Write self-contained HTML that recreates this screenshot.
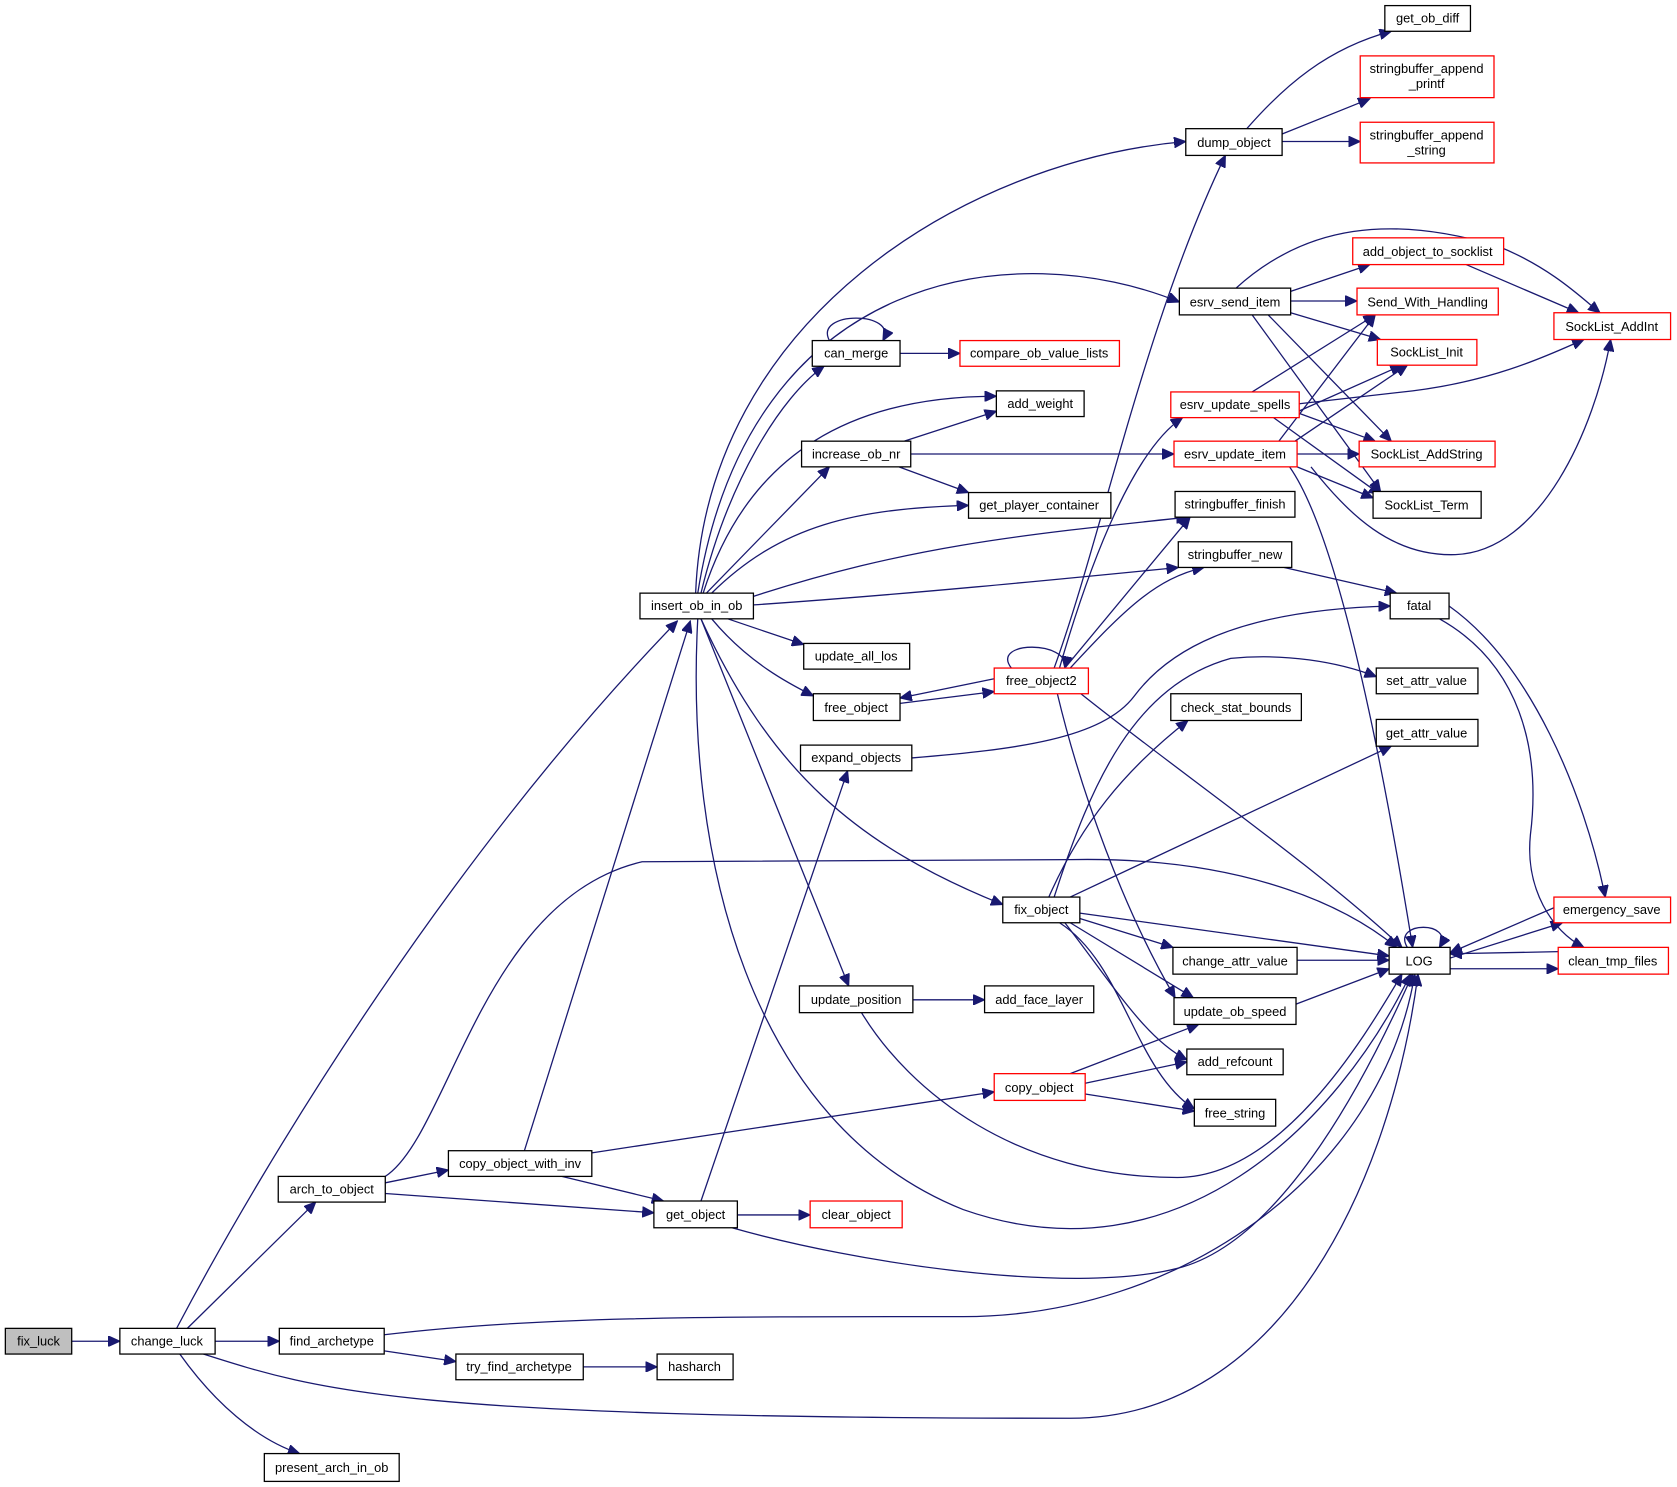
<!DOCTYPE html>
<html><head><meta charset="utf-8"><style>
html,body{margin:0;padding:0;background:#fff;}
svg{display:block;}
text{font-family:"Liberation Sans",sans-serif;font-size:12px;fill:#000;text-anchor:middle;}
.n{fill:#fff;stroke:#000;stroke-width:1.2;}
.r{fill:#fff;stroke:#f00;stroke-width:1.2;}
.e{fill:none;stroke:#191970;stroke-width:1.2;}
</style></head><body>
<svg width="1677" height="1487" viewBox="0 0 1567 1389" xmlns="http://www.w3.org/2000/svg">
<defs><marker id="a" markerUnits="userSpaceOnUse" markerWidth="12" markerHeight="10" refX="11" refY="5" orient="auto"><path d="M0,0 L11,5 L0,10 z" fill="#191970" stroke="#191970"/></marker></defs>
<g class="e" marker-end="url(#a)">
<path d="M67,1253 L112,1253"/>
<path d="M165,1241 C250,1080 420,800 633,580"/>
<path d="M175,1241 L295,1123"/>
<path d="M201,1253 L261,1253"/>
<path d="M190,1265 C300,1300 380,1325 1000,1325 C1200,1325 1300,1100 1325,910"/>
<path d="M168,1265 C200,1310 240,1345 280,1358"/>
<path d="M359,1262 L426,1272"/>
<path d="M359,1247 C500,1230 650,1230 900,1230 C1100,1230 1290,1100 1322,910"/>
<path d="M545,1277 L614,1277"/>
<path d="M360,1099 C420,1060 450,840 600,805 L1000,803 C1150,800 1250,840 1305,885"/>
<path d="M360,1105 L419,1093"/>
<path d="M360,1115 L611,1133"/>
<path d="M490,1075 L645,580"/>
<path d="M525,1099 L620,1122"/>
<path d="M553,1077 L929,1020"/>
<path d="M655,1122 L792,720"/>
<path d="M689,1135 L757,1135"/>
<path d="M684,1147 C800,1180 1000,1210 1100,1185 C1200,1160 1280,1000 1320,910"/>
<path d="M650,554 C660,300 900,150 1108,132"/>
<path d="M652,554 C700,250 950,220 1102,282"/>
<path d="M655,554 C680,450 730,370 770,342"/>
<path d="M657,554 C700,420 800,370 931,370"/>
<path d="M660,554 L775,436"/>
<path d="M665,554 C730,490 800,475 905,472"/>
<path d="M704,557 C850,510 950,500 1110,483"/>
<path d="M704,565 C850,555 1000,540 1101,530"/>
<path d="M680,578 L751,602"/>
<path d="M665,578 C700,620 740,640 760,650"/>
<path d="M655,578 C720,720 800,790 937,845"/>
<path d="M655,578 L793,921"/>
<path d="M652,578 C640,800 700,1050 900,1130 C1100,1200 1250,1050 1318,910"/>
<path d="M775,318 C760,290 840,290 825,318"/>
<path d="M841,330 L897,330"/>
<path d="M845,412 L931,384"/>
<path d="M840,436 L905,460"/>
<path d="M851,424 L1097,424"/>
<path d="M841,657 L929,646"/>
<path d="M929,634 L841,652"/>
<path d="M945,624 C925,598 1000,598 995,624"/>
<path d="M985,624 C1030,500 1070,300 1145,145"/>
<path d="M990,624 C1020,520 1060,420 1105,390"/>
<path d="M995,624 L1112,483"/>
<path d="M1000,624 C1050,570 1080,540 1125,530"/>
<path d="M1010,648 C1100,720 1230,810 1310,885"/>
<path d="M988,648 C1010,740 1050,850 1098,932"/>
<path d="M852,708 C950,700 1030,690 1060,650 C1090,610 1150,570 1299,566"/>
<path d="M853,934 L920,934"/>
<path d="M805,946 C850,1020 950,1100 1100,1100 C1200,1100 1280,960 1310,910"/>
<path d="M980,838 C1010,770 1050,720 1110,673"/>
<path d="M985,838 C1020,730 1060,640 1150,615 C1200,610 1250,618 1286,632"/>
<path d="M1000,838 L1300,697"/>
<path d="M1009,853 L1298,893"/>
<path d="M1009,858 L1096,885"/>
<path d="M1000,862 L1115,932"/>
<path d="M995,862 C1040,920 1070,970 1109,990"/>
<path d="M990,862 C1050,900 1060,1000 1116,1036"/>
<path d="M1000,1003 L1120,957"/>
<path d="M1014,1012 L1109,992"/>
<path d="M1014,1022 L1116,1038"/>
<path d="M1165,120 C1200,80 1240,45 1300,29"/>
<path d="M1198,125 L1280,92"/>
<path d="M1198,132 L1271,132"/>
<path d="M1206,272 L1280,247"/>
<path d="M1206,281 L1268,281"/>
<path d="M1206,292 L1290,317"/>
<path d="M1185,294 L1300,412"/>
<path d="M1170,294 L1290,459"/>
<path d="M1155,269 C1220,210 1300,200 1400,230 C1450,250 1480,280 1495,292"/>
<path d="M1370,247 L1475,292"/>
<path d="M1170,366 L1285,294"/>
<path d="M1200,390 L1310,341"/>
<path d="M1214,377 L1320,365 C1400,355 1450,330 1480,317"/>
<path d="M1214,386 L1285,412"/>
<path d="M1190,390 L1290,462"/>
<path d="M1195,412 L1285,294"/>
<path d="M1210,412 L1315,341"/>
<path d="M1212,424 L1270,424"/>
<path d="M1212,436 L1283,465"/>
<path d="M1205,436 C1250,500 1290,700 1320,885"/>
<path d="M1225,436 C1260,480 1300,520 1360,518 C1440,515 1490,400 1505,317"/>
<path d="M1200,530 L1305,554"/>
<path d="M1354,566 C1430,620 1480,740 1500,838"/>
<path d="M1345,578 C1420,620 1440,700 1430,780 C1425,830 1450,870 1480,885"/>
<path d="M1315,885 C1300,860 1360,860 1345,885"/>
<path d="M1355,895 L1460,862"/>
<path d="M1452,848 L1355,890"/>
<path d="M1456,889 L1355,891"/>
<path d="M1355,905 L1456,905"/>
<path d="M1212,897 L1298,897"/>
<path d="M1211,938 L1298,905"/>
</g>
<g>
<rect x="5" y="1241" width="62" height="24" fill="#bfbfbf" stroke="#000" stroke-width="1.2"/><text x="36" y="1257">fix_luck</text>
<rect class="n" x="112" y="1241" width="89" height="24"/><text x="156" y="1257">change_luck</text>
<rect class="n" x="261" y="1241" width="98" height="24"/><text x="310" y="1257">find_archetype</text>
<rect class="n" x="426" y="1265" width="119" height="24"/><text x="485" y="1281">try_find_archetype</text>
<rect class="n" x="614" y="1265" width="71" height="24"/><text x="649" y="1281">hasharch</text>
<rect class="n" x="247" y="1358" width="126" height="26"/><text x="310" y="1375">present_arch_in_ob</text>
<rect class="n" x="260" y="1099" width="100" height="24"/><text x="310" y="1115">arch_to_object</text>
<rect class="n" x="419" y="1075" width="134" height="24"/><text x="486" y="1091">copy_object_with_inv</text>
<rect class="n" x="611" y="1122" width="78" height="25"/><text x="650" y="1139">get_object</text>
<rect class="r" x="757" y="1122" width="86" height="25"/><text x="800" y="1139">clear_object</text>
<rect class="n" x="598" y="554" width="106" height="24"/><text x="651" y="570">insert_ob_in_ob</text>
<rect class="n" x="759" y="318" width="82" height="24"/><text x="800" y="334">can_merge</text>
<rect class="r" x="897" y="318" width="149" height="24"/><text x="971" y="334">compare_ob_value_lists</text>
<rect class="n" x="931" y="365" width="82" height="24"/><text x="972" y="381">add_weight</text>
<rect class="n" x="749" y="412" width="102" height="24"/><text x="800" y="428">increase_ob_nr</text>
<rect class="n" x="905" y="460" width="133" height="24"/><text x="971" y="476">get_player_container</text>
<rect class="n" x="751" y="601" width="99" height="24"/><text x="800" y="617">update_all_los</text>
<rect class="n" x="760" y="648" width="81" height="25"/><text x="800" y="665">free_object</text>
<rect class="n" x="748" y="696" width="104" height="24"/><text x="800" y="712">expand_objects</text>
<rect class="n" x="747" y="921" width="106" height="25"/><text x="800" y="938">update_position</text>
<rect class="n" x="920" y="921" width="102" height="25"/><text x="971" y="938">add_face_layer</text>
<rect class="n" x="937" y="838" width="72" height="24"/><text x="973" y="854">fix_object</text>
<rect class="r" x="929" y="624" width="88" height="24"/><text x="973" y="640">free_object2</text>
<rect class="r" x="929" y="1003" width="85" height="25"/><text x="971" y="1020">copy_object</text>
<rect class="n" x="1108" y="120" width="90" height="25"/><text x="1153" y="137">dump_object</text>
<rect class="n" x="1294" y="5" width="80" height="24"/><text x="1334" y="21">get_ob_diff</text>
<rect class="r" x="1271" y="52" width="125" height="39"/><text x="1333" y="68">stringbuffer_append</text><text x="1333" y="82">_printf</text>
<rect class="r" x="1271" y="114" width="125" height="38"/><text x="1333" y="130">stringbuffer_append</text><text x="1333" y="144">_string</text>
<rect class="n" x="1102" y="269" width="104" height="25"/><text x="1154" y="286">esrv_send_item</text>
<rect class="r" x="1094" y="366" width="120" height="24"/><text x="1154" y="382">esrv_update_spells</text>
<rect class="r" x="1097" y="412" width="115" height="24"/><text x="1154" y="428">esrv_update_item</text>
<rect class="n" x="1098" y="459" width="112" height="24"/><text x="1154" y="475">stringbuffer_finish</text>
<rect class="n" x="1101" y="506" width="106" height="24"/><text x="1154" y="522">stringbuffer_new</text>
<rect class="n" x="1094" y="648" width="122" height="25"/><text x="1155" y="665">check_stat_bounds</text>
<rect class="n" x="1096" y="885" width="116" height="25"/><text x="1154" y="902">change_attr_value</text>
<rect class="n" x="1097" y="932" width="114" height="25"/><text x="1154" y="949">update_ob_speed</text>
<rect class="n" x="1109" y="980" width="90" height="24"/><text x="1154" y="996">add_refcount</text>
<rect class="n" x="1116" y="1027" width="76" height="25"/><text x="1154" y="1044">free_string</text>
<rect class="r" x="1264" y="222" width="141" height="25"/><text x="1334" y="239">add_object_to_socklist</text>
<rect class="r" x="1268" y="269" width="132" height="25"/><text x="1334" y="286">Send_With_Handling</text>
<rect class="r" x="1287" y="317" width="93" height="24"/><text x="1333" y="333">SockList_Init</text>
<rect class="r" x="1270" y="412" width="127" height="24"/><text x="1333" y="428">SockList_AddString</text>
<rect class="n" x="1283" y="459" width="101" height="25"/><text x="1333" y="476">SockList_Term</text>
<rect class="r" x="1452" y="292" width="109" height="25"/><text x="1506" y="309">SockList_AddInt</text>
<rect class="n" x="1299" y="554" width="55" height="24"/><text x="1326" y="570">fatal</text>
<rect class="n" x="1286" y="624" width="95" height="24"/><text x="1333" y="640">set_attr_value</text>
<rect class="n" x="1286" y="672" width="95" height="25"/><text x="1333" y="689">get_attr_value</text>
<rect class="n" x="1298" y="885" width="57" height="25"/><text x="1326" y="902">LOG</text>
<rect class="r" x="1452" y="838" width="109" height="24"/><text x="1506" y="854">emergency_save</text>
<rect class="r" x="1456" y="885" width="103" height="25"/><text x="1507" y="902">clean_tmp_files</text>
</g>
</svg>
</body></html>
